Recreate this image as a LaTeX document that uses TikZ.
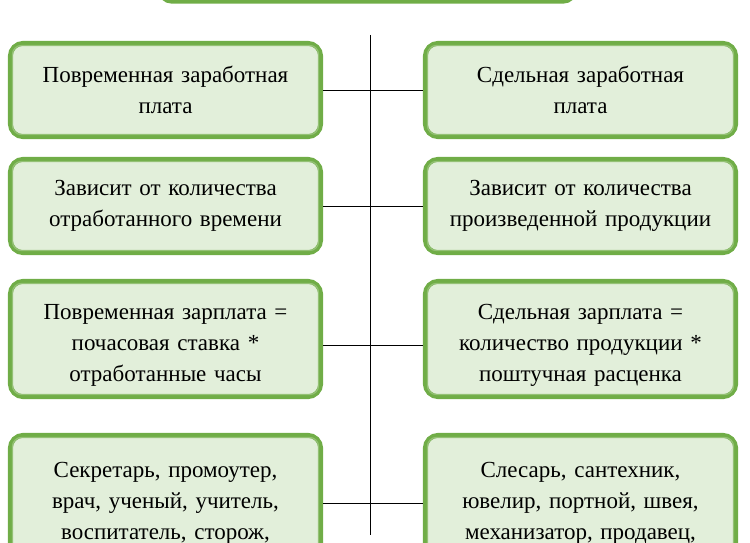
\documentclass[tikz,border=0pt]{standalone}
\usepackage{fontspec}
\setmainfont{Liberation Serif}
\definecolor{cardgreen}{HTML}{70AD47}
\definecolor{cardfill}{HTML}{E2EFDA}
\begin{document}
\begin{tikzpicture}[x=1pt, y=-1pt,
    card/.style={draw=cardgreen, line width=4.8pt, fill=cardfill, rounded corners=13pt,
      minimum width=310.5pt, text width=300pt, align=center, inner sep=0pt,
      font=\fontsize{23}{31}\selectfont},
    inset/.style={draw=cardgreen!75, line width=1.2pt, rounded corners=9pt},
    link/.style={line width=0.8pt}]
  % The left column is time pay, the right column piece pay.
  \useasboundingbox (0,0) rectangle (750,543);
  \clip (0,0) rectangle (750,543);
  \node[card, minimum width=416.5pt, minimum height=80pt, anchor=south] (top) at (367.5,3.75) {};
  \node[card, minimum height=93.5pt] (l1) at (165.5,90) {Повременная заработная\\плата};
  \node[card, minimum height=93.5pt] (r1) at (580.5,90) {Сдельная заработная\\плата};
  \node[card, minimum height=93.5pt] (l2) at (165.5,206) {Зависит от количества\\отработанного времени};
  \node[card, minimum height=93.5pt] (r2) at (580.5,206) {Зависит от количества\\произведенной продукции};
  \node[card, minimum height=115.5pt] (l3) at (165.5,339) {\rule{0pt}{27pt}Повременная зарплата =\\почасовая ставка *\\отработанные часы};
  \node[card, minimum height=115.5pt] (r3) at (580.5,339) {\rule{0pt}{27pt}Сдельная зарплата =\\количество продукции *\\поштучная расценка};
  \node[card, minimum height=135.5pt] (l4) at (165.5,503) {Секретарь, промоутер,\\врач, ученый, учитель,\\воспитатель, сторож,};
  \node[card, minimum height=135.5pt] (r4) at (580.5,503) {Слесарь, сантехник,\\ювелир, портной, швея,\\механизатор, продавец,};
  \foreach \n in {top,l1,r1,l2,r2,l3,r3,l4,r4}
    \draw[inset] ([xshift=4.6pt,yshift=4.6pt]\n.south west) rectangle ([xshift=-4.6pt,yshift=-4.6pt]\n.north east);
  \coordinate (spine-a) at (370,35);
  \coordinate (spine-b) at (370,535);
  \draw[link] (spine-a) -- (spine-b);
  \draw[link] (l1.east) -- (r1.west);
  \draw[link] (l2.east) -- (r2.west);
  \draw[link] ([yshift=-6pt]l3.east) -- ([yshift=-6pt]r3.west);
  \draw[link] (l4.east) -- (r4.west);
\end{tikzpicture}
\end{document}
